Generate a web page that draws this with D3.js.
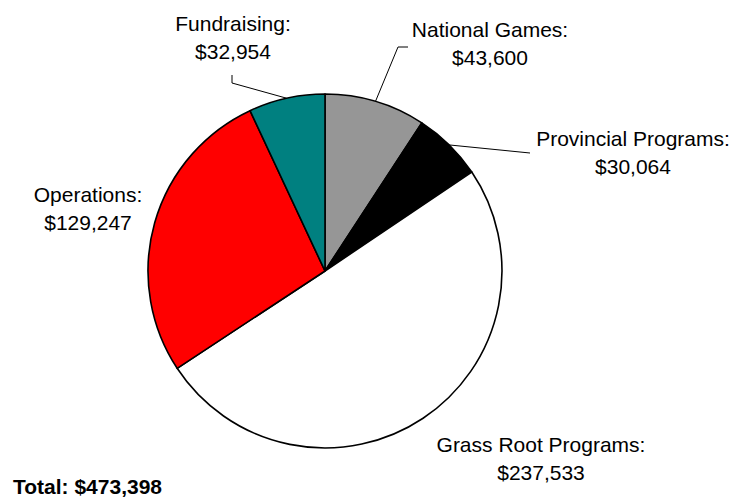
<!DOCTYPE html>
<html>
<head>
<meta charset="utf-8">
<script src="https://cdn.jsdelivr.net/npm/d3@7"></script>
<style>
  html, body { margin: 0; padding: 0; background: #fff; }
  text { font-family: Arial, "Liberation Sans", sans-serif; fill: #000; }
</style>
</head>
<body>
<svg id="chart" width="733" height="499"></svg>
<script>
const categories = ["National Games", "Provincial Programs", "Grass Root Programs", "Operations", "Fundraising"];
const values = [43600, 30064, 237533, 129247, 32954];
const colors = ["#969696", "#000000", "#ffffff", "#ff0000", "#008080"];
const totalLabel = "Total: $473,398";

// layout (label anchors and leader line elbows), not data
const labelLayout = [
  { x: 490, y: 37, elbow: [[398, 47], [408, 47]] },
  { x: 633, y: 146, elbow: [[530, 153]] },
  { x: 541, y: 452, elbow: null },
  { x: 88, y: 202, elbow: null },
  { x: 233, y: 31, elbow: [[232, 83], [232, 75]] }
];

const svg = d3.select("#chart");
const cx = 325, cy = 271, r = 177;
const g = svg.append("g").attr("transform", `translate(${cx},${cy})`);

const data = categories.map((c, i) => ({ name: c, value: values[i], color: colors[i], layout: labelLayout[i] }));
const pie = d3.pie().sort(null).value(d => d.value);
const arcs = pie(data);
const arc = d3.arc().innerRadius(0).outerRadius(r);

g.selectAll("path.slice")
  .data(arcs)
  .enter().append("path")
  .attr("class", "slice")
  .attr("d", arc)
  .attr("fill", d => d.data.color)
  .attr("stroke", "#000")
  .attr("stroke-width", 1.6)
  .attr("stroke-linejoin", "round");

const fmt = d3.format("$,");

// leader lines
arcs.forEach(a => {
  const L = a.data.layout;
  if (!L.elbow) return;
  const mid = (a.startAngle + a.endAngle) / 2;
  const sx = cx + r * Math.sin(mid), sy = cy - r * Math.cos(mid);
  const pts = [[sx, sy]].concat(L.elbow);
  svg.append("path")
    .attr("d", d3.line()(pts))
    .attr("fill", "none")
    .attr("stroke", "#000")
    .attr("stroke-width", 1);
});

// labels
arcs.forEach(a => {
  const L = a.data.layout;
  const t = svg.append("text")
    .attr("text-anchor", "middle")
    .attr("font-size", 21);
  t.append("tspan").attr("x", L.x).attr("y", L.y).text(a.data.name + ":");
  t.append("tspan").attr("x", L.x).attr("y", L.y + 28).text(fmt(a.data.value));
});

svg.append("text")
  .attr("x", 13).attr("y", 494)
  .attr("font-size", 21)
  .attr("font-weight", "bold")
  .text(totalLabel);
</script>
</body>
</html>
